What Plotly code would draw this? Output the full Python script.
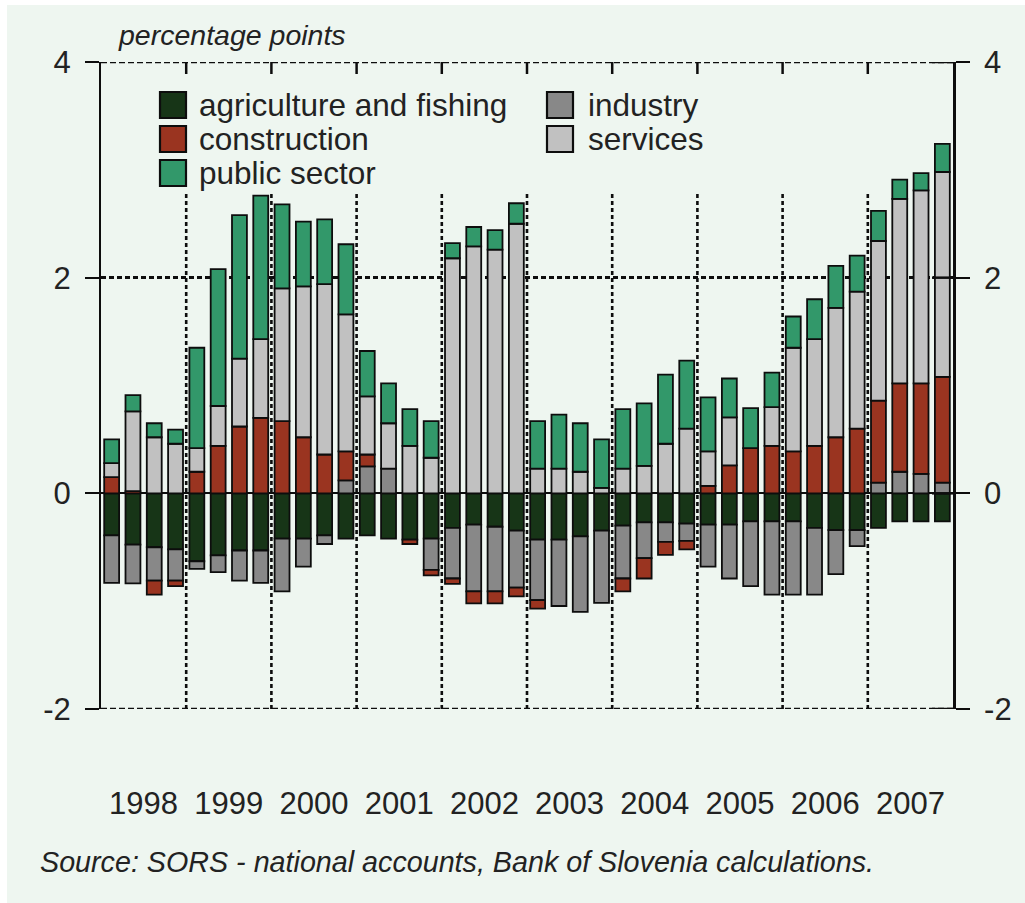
import plotly.graph_objects as go

# ---------------- data (percentage points, quarterly 1998Q1-2007Q4) ----------------
years = ['1998', '1999', '2000', '2001', '2002', '2003', '2004', '2005', '2006', '2007']
quarters_per_year = 4

agriculture = [-0.39, -0.475, -0.50, -0.52, -0.63, -0.575, -0.53, -0.53,
               -0.42, -0.42, -0.39, -0.42, -0.39, -0.42, -0.43, -0.42,
               -0.32, -0.29, -0.31, -0.345, -0.43, -0.43, -0.40, -0.345,
               -0.30, -0.27, -0.27, -0.28, -0.29, -0.29, -0.26, -0.26,
               -0.26, -0.32, -0.34, -0.34, -0.32, -0.26, -0.26, -0.26]
industry = [-0.44, -0.36, -0.31, -0.29, -0.07, -0.155, -0.28, -0.30,
            -0.49, -0.26, -0.08, 0.12, 0.25, 0.23, None, -0.29,
            -0.47, -0.62, -0.60, -0.53, -0.56, -0.615, -0.70, -0.67,
            -0.49, -0.33, -0.18, -0.16, -0.39, -0.50, -0.60, -0.68,
            -0.68, -0.62, -0.41, -0.15, 0.10, 0.20, 0.18, 0.10]
construction = [0.15, 0.02, -0.13, -0.05, 0.20, 0.44, 0.62, 0.70,
                0.67, 0.52, 0.36, 0.27, 0.11, None, -0.04, -0.05,
                -0.05, -0.11, -0.11, -0.08, -0.08, None, None, None,
                -0.12, -0.19, -0.12, -0.08, 0.07, 0.26, 0.42, 0.44,
                0.39, 0.44, 0.52, 0.60, 0.76, 0.82, 0.84, 0.98]
services = [0.13, 0.74, 0.52, 0.46, 0.22, 0.37, 0.63, 0.73,
            1.23, 1.40, 1.58, 1.27, 0.54, 0.42, 0.44, 0.33,
            2.18, 2.29, 2.26, 2.50, 0.23, 0.23, 0.20, 0.05,
            0.23, 0.255, 0.46, 0.60, 0.32, 0.445, None, 0.36,
            0.96, 0.99, 1.20, 1.27, 1.48, 1.71, 1.79, 1.90]
public_sector = [0.22, 0.15, 0.13, 0.13, 0.93, 1.27, 1.33, 1.33,
                 0.78, 0.60, 0.60, 0.65, 0.42, 0.37, 0.34, 0.34,
                 0.14, 0.18, 0.18, 0.19, 0.44, 0.50, 0.45, 0.45,
                 0.55, 0.58, 0.64, 0.63, 0.50, 0.36, 0.37, 0.32,
                 0.29, 0.37, 0.39, 0.335, 0.28, 0.18, 0.16, 0.26]

y_ticks = [-2, 0, 2, 4]
y_ticktext = ['-2', '0', '2', '4']
y_range = [-2, 4]

# stacking order (bottom -> top) with legend column / row
series = [
    ('agriculture and fishing', agriculture, '#173517', 0, 0),
    ('industry', industry, '#888888', 1, 0),
    ('construction', construction, '#9a3420', 0, 1),
    ('services', services, '#c1c1c1', 1, 1),
    ('public sector', public_sector, '#32986a', 0, 2),
]

# ---------------- geometry ----------------
OX, OY = 7, 5            # page offset of the figure (white strip)
W, H = 1018, 898
ML, MT = 94, 57
PW, PH = 852, 647
MR = W - ML - PW
MB = H - MT - PH
BG = '#eef6f0'
INK = '#0d0d0d'
TXT = '#222222'
FONT = 'Liberation Sans, Arial, sans-serif'


def px_x(page_x):
    return (page_x - OX - ML) / PW


def px_y(page_y):
    return 1 - (page_y - OY - MT) / PH


n = len(years) * quarters_per_year
xpos = list(range(n))
year_centres = [i * quarters_per_year + (quarters_per_year - 1) / 2 for i in range(len(years))]
year_bounds = [i * quarters_per_year - 0.5 for i in range(1, len(years))]
x_range = [-0.5, n - 0.5]
unit_px_y = PH / (y_range[1] - y_range[0])
unit_px_x = PW / n

fig = go.Figure()
for name, vals, color, col, row in series:
    fig.add_trace(go.Bar(
        x=xpos, y=vals, name=name, showlegend=False,
        marker=dict(color=color, line=dict(color=INK, width=1.8)),
        hoverinfo='name+y',
    ))

shapes = []
# vertical dotted year separators (stop below the legend area)
for b in year_bounds:
    shapes.append(dict(type='line', xref='x', yref='y', x0=b, x1=b, y0=y_range[0], y1=2.78,
                       line=dict(color=INK, width=2.6, dash='4px,3px'), layer='below'))
    # short inward ticks hanging from the top frame
    shapes.append(dict(type='line', xref='x', yref='y', x0=b, x1=b,
                       y0=y_range[1], y1=y_range[1] - 12 / unit_px_y,
                       line=dict(color=INK, width=2.5), layer='above'))
# dashed frame lines at top and bottom of the value range
for yv in (y_range[0], y_range[1]):
    shapes.append(dict(type='line', xref='x', yref='y', x0=x_range[0], x1=x_range[1],
                       y0=yv, y1=yv, line=dict(color=INK, width=2.4, dash='6px,3px'),
                       layer='below'))
# inward part of the right-hand ticks
for yv in y_ticks:
    shapes.append(dict(type='line', xref='x', yref='y', x0=x_range[1] - 21 / unit_px_x,
                       x1=x_range[1], y0=yv, y1=yv, line=dict(color=INK, width=2.5),
                       layer='above'))

annotations = []
# legend (two columns)
legend_cols = {0: (160, 197), 1: (547, 586)}
row_top = [92, 126, 160]
SW = 26
for name, vals, color, col, row in series:
    sx, tx = legend_cols[col]
    top = row_top[row]
    shapes.append(dict(type='rect', xref='paper', yref='paper',
                       x0=px_x(sx), x1=px_x(sx + SW), y0=px_y(top + SW), y1=px_y(top),
                       fillcolor=color, line=dict(color=INK, width=2.2), layer='above'))
    annotations.append(dict(xref='paper', yref='paper', x=px_x(tx), y=px_y(top + SW / 2),
                            text=name, showarrow=False, xanchor='left', yanchor='middle',
                            font=dict(family=FONT, size=31.5, color=TXT)))

annotations.append(dict(xref='paper', yref='paper', x=px_x(116), y=px_y(35),
                        text='<i>percentage points</i>', showarrow=False,
                        xanchor='left', yanchor='middle',
                        font=dict(family=FONT, size=28.5, color=TXT)))
annotations.append(dict(xref='paper', yref='paper', x=px_x(38), y=px_y(862),
                        text='<i>Source: SORS - national accounts, Bank of Slovenia calculations.</i>',
                        showarrow=False, xanchor='left', yanchor='middle',
                        font=dict(family=FONT, size=28.7, color=TXT)))

fig.update_layout(
    width=W, height=H,
    margin=dict(l=ML, r=MR, t=MT, b=MB, pad=0),
    paper_bgcolor=BG, plot_bgcolor=BG,
    barmode='relative', bargap=0.3,
    showlegend=False,
    shapes=shapes, annotations=annotations,
    xaxis=dict(range=x_range, tickvals=year_centres, ticktext=years,
               ticks='outside', ticklen=67, tickcolor='rgba(0,0,0,0)',
               showgrid=False, zeroline=False, showline=False,
               tickfont=dict(family=FONT, size=31, color=TXT)),
    yaxis=dict(range=y_range, tickvals=y_ticks, ticktext=y_ticktext,
               ticks='outside', ticklen=14, tickwidth=2, tickcolor=INK,
               ticklabelstandoff=8,
               showline=True, linecolor=INK, linewidth=2,
               showgrid=True, gridcolor=INK, gridwidth=3, griddash='5px,3px',
               zeroline=True, zerolinecolor=INK, zerolinewidth=2,
               tickfont=dict(family=FONT, size=31, color=TXT)),
    yaxis2=dict(range=y_range, overlaying='y', side='right', anchor='x',
                tickvals=y_ticks, ticktext=y_ticktext,
                ticks='outside', ticklen=14, tickwidth=2, ticklabelstandoff=8,
                tickcolor=INK, showline=True, linecolor=INK, linewidth=2.8,
                showgrid=False, zeroline=False,
                tickfont=dict(family=FONT, size=31, color=TXT)),
)

# empty helper trace so the right-hand value axis is rendered
fig.add_trace(go.Scatter(x=[None], y=[None], xaxis='x', yaxis='y2',
                         showlegend=False, hoverinfo='skip'))

fig.write_html('out.html', post_script=(
    "document.body.style.margin='5px 0 0 7px';"
    "document.body.style.overflow='hidden';"
))
